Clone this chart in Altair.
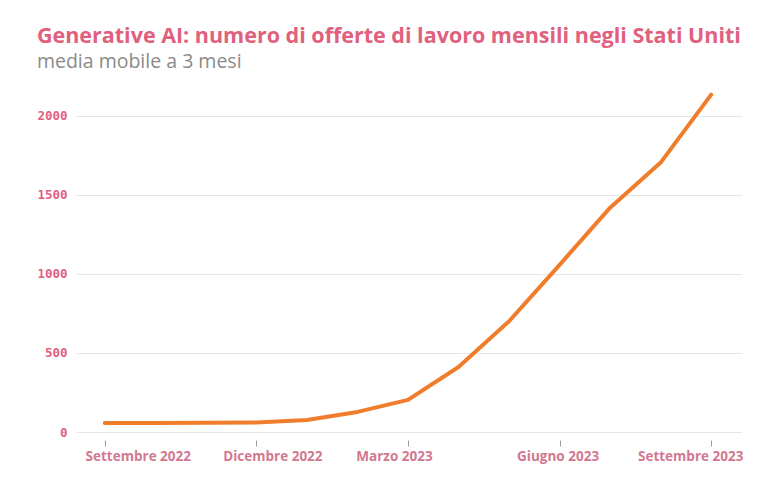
import altair as alt
import pandas as pd

months = ["2022-09", "2022-10", "2022-11", "2022-12", "2023-01", "2023-02", "2023-03",
          "2023-04", "2023-05", "2023-06", "2023-07", "2023-08", "2023-09"]
offerte = [57, 57, 58, 60, 76, 127, 203, 411, 700, 1057, 1418, 1703, 2133]

tick_idx = [0, 3, 6, 9, 12]
tick_labels = ["Settembre 2022", "Dicembre 2022", "Marzo 2023", "Giugno 2023", "Settembre 2023"]
y_ticks = [0, 500, 1000, 1500, 2000]

df = pd.DataFrame({"mese": months, "idx": list(range(len(months))), "offerte": offerte})

label_expr = "[" + ",".join("'" + t + "'" for t in tick_labels) + "][round(datum.value/3)]"

label_shift = {
    "condition": [
        {"test": "datum.value == 0", "value": 33},
        {"test": "datum.value == 3", "value": 16},
        {"test": "datum.value == 6", "value": -14},
        {"test": "datum.value == 9", "value": -2},
        {"test": "datum.value == 12", "value": -21},
    ],
    "value": 0,
}

line = alt.Chart(df).mark_line(
    color="#F07D2B", strokeWidth=4, strokeCap="round", strokeJoin="round", interpolate="linear"
).encode(
    x=alt.X("idx:Q", title=None,
            scale=alt.Scale(domain=[-0.57, 12.59], nice=False, zero=False),
            axis=alt.Axis(values=tick_idx, labelExpr=label_expr, grid=False, domain=False,
                          ticks=True, tickSize=6, tickColor="#9a9a9a", tickWidth=1,
                          offset=8, labelPadding=3, labelFont="Open Sans", labelFontSize=13.5,
                          labelFontWeight="bold", labelColor="#D2788F",
                          labelOffset=label_shift)),
    y=alt.Y("offerte:Q", title=None,
            scale=alt.Scale(domain=[0, 2200], nice=False),
            axis=alt.Axis(values=y_ticks, format="d", grid=True, gridColor="#e6e6e6", gridWidth=1,
                          domain=False, ticks=False, labelPadding=9,
                          labelFont="DejaVu Sans Mono", labelFontSize=12.5, labelFontWeight="bold",
                          labelColor="#E0607E")),
)

chart = line.properties(
    width=665, height=348,
    padding={"left": 28, "top": 18, "right": 5, "bottom": 5},
    title=alt.TitleParams(
        text="Generative AI: numero di offerte di lavoro mensili negli Stati Uniti",
        subtitle="media mobile a 3 mesi",
        anchor="start", frame="bounds", font="Open Sans", fontSize=21.5, fontWeight="bold",
        color="#E0607E", subtitleFont="Open Sans", subtitleFontSize=19.5,
        subtitleColor="#8a8a8a", subtitleFontWeight="normal", subtitlePadding=5, offset=13,
    ),
).configure(background="white", view={"stroke": None})

chart.save("out.html", embed_options={"renderer": "svg", "actions": False})
